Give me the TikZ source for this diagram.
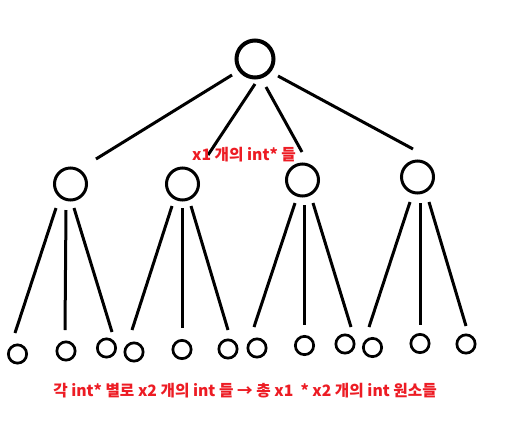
\documentclass[tikz,border=0pt]{standalone}
\usepackage{fontspec}
\newfontfamily\kr{Noto Sans CJK KR}
\usetikzlibrary{calc}
\definecolor{redtxt}{RGB}{237,28,36}
\begin{document}
\begin{tikzpicture}[x=1pt,y=-1pt,
  rootnode/.style={circle,draw,line width=4pt,minimum size=37pt,inner sep=0pt},
  midnode/.style={circle,draw,line width=3pt,minimum size=32pt,inner sep=0pt},
  leafnode/.style={circle,draw,line width=2.7pt,minimum size=18.3pt,inner sep=0pt},
  edge/.style={line width=3pt},
  lbl/.style={text=redtxt,inner sep=0pt,font=\kr\bfseries\fontsize{15.7}{18}\selectfont}]
\useasboundingbox[fill=white] (0,0) rectangle (524,421);
\node[rootnode] (root) at (255,59) {};
\node[midnode] (m1) at (70.5,184) {};
\node[midnode] (m2) at (182.5,184) {};
\node[midnode] (m3) at (302.5,180) {};
\node[midnode] (m4) at (417.5,177) {};
\node[leafnode] (l1) at (17.5,354) {};
\node[leafnode] (l2) at (66,351) {};
\node[leafnode] (l3) at (106.5,348) {};
\node[leafnode] (l4) at (134,352) {};
\node[leafnode] (l5) at (182,349.5) {};
\node[leafnode] (l6) at (228,349) {};
\node[leafnode] (l7) at (257,348) {};
\node[leafnode] (l8) at (304.5,345.5) {};
\node[leafnode] (l9) at (345,344) {};
\node[leafnode] (l10) at (372.5,347.5) {};
\node[leafnode] (l11) at (420,343.5) {};
\node[leafnode] (l12) at (466,344) {};
% root to middle
\draw[edge] ($(root)+(-23,16)$) -- ($(m1)+(25.5,-25)$);
\draw[edge] ($(root)+(0,25)$) -- ($(m2)+(25.5,-29)$);
\draw[edge] ($(root)+(11,28)$) -- ($(m3)+(-0.5,-28)$);
\draw[edge] ($(root)+(23,17)$) -- ($(m4)+(-4.5,-28)$);
% m1
\draw[edge] ($(m1)+(-14.5,24)$) -- ($(l1)+(-2.5,-21)$);
\draw[edge] ($(m1)+(-4.5,26)$) -- ($(l2)+(-1,-21)$);
\draw[edge] ($(m1)+(3.5,24)$) -- ($(l3)+(5.5,-16)$);
% m2
\draw[edge] ($(m2)+(-10.5,22)$) -- ($(l4)+(-2,-22)$);
\draw[edge] ($(m2)+(-0.5,24)$) -- ($(l5)+(0,-21.5)$);
\draw[edge] ($(m2)+(8.5,22)$) -- ($(l6)+(0,-19)$);
% m3
\draw[edge] ($(m3)+(-7.5,23)$) -- ($(l7)+(-3,-21)$);
\draw[edge] ($(m3)+(1.5,25)$) -- ($(l8)+(-0.5,-20.5)$);
\draw[edge] ($(m3)+(10.5,23)$) -- ($(l9)+(6,-17)$);
% m4
\draw[edge] ($(m4)+(-7.5,25)$) -- ($(l10)+(-3.5,-20.5)$);
\draw[edge] ($(m4)+(2.5,26)$) -- ($(l11)+(0,-18.5)$);
\draw[edge] ($(m4)+(11.5,25)$) -- ($(l12)+(0,-18)$);
% labels
\node[lbl] (t1) at (244,155) {x1 개의 int* 들};
\node[lbl] (t2) at (245,391) {각 int* 별로 x2 개의 int 들 → 총 x1 \ * x2 개의 int 원소들};
\end{tikzpicture}
\end{document}
